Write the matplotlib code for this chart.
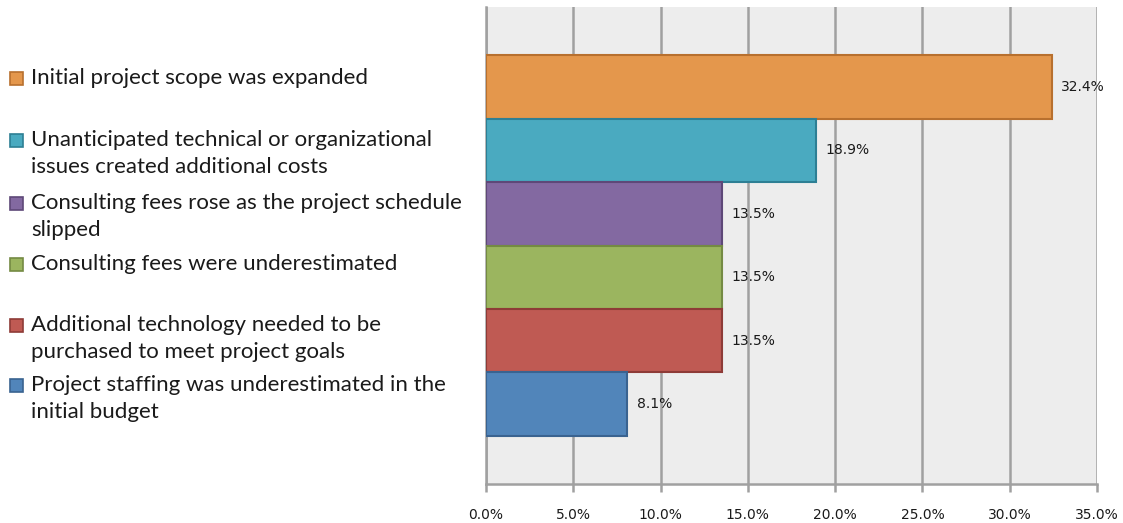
import matplotlib
matplotlib.use("Agg")
import matplotlib.pyplot as plt
from matplotlib.patches import Rectangle
from matplotlib.ticker import FuncFormatter, MultipleLocator

# Reasons for cost overruns, top to bottom
labels = [
    "Initial project scope was expanded",
    "Unanticipated technical or organizational\nissues created additional costs",
    "Consulting fees rose as the project schedule\nslipped",
    "Consulting fees were underestimated",
    "Additional technology needed to be\npurchased to meet project goals",
    "Project staffing was underestimated in the\ninitial budget",
]
values = [32.4, 18.9, 13.5, 13.5, 13.5, 8.1]
fills = ["#E4974C", "#4AAAC0", "#8369A1", "#9BB55F", "#BF5A53", "#5185BA"]
edges = ["#B8702E", "#2D7F94", "#5E4878", "#748A43", "#8E3B37", "#3A6390"]

W, H = 1123, 523
fig = plt.figure(figsize=(W / 100, H / 100), dpi=100)
fig.patch.set_facecolor("white")

ax = fig.add_axes([486 / W, 1 - 484 / H, (1097 - 486) / W, (484 - 7) / H])
ax.set_facecolor("#EDEDED")

pos = list(range(len(values)))
ax.barh(pos, values, height=1.0, color=fills, edgecolor=edges, linewidth=1.5, zorder=3)

for p, v in zip(pos, values):
    ax.text(v + 0.55, p, f"{v:.1f}%", va="center", ha="left",
            fontsize=10, color="#1A1A1A", family="DejaVu Sans", zorder=4)

ax.set_xlim(0, 35)
ax.set_ylim(len(values) - 0.5 + 0.76, -0.5 - 0.76)
ax.xaxis.set_major_locator(MultipleLocator(5))
ax.xaxis.set_major_formatter(FuncFormatter(lambda x, _: f"{x:.1f}%"))
ax.set_yticks([])
ax.grid(axis="x", color="#A0A0A0", linewidth=1.8, zorder=1)
for s in ("top", "right"):
    ax.spines[s].set_visible(False)
for s in ("left", "bottom"):
    ax.spines[s].set_color("#A0A0A0")
    ax.spines[s].set_linewidth(1.8)
ax.tick_params(axis="x", length=6, width=1.8, color="#A0A0A0", pad=11,
               labelsize=10, labelcolor="#1A1A1A")

# Legend drawn at the left with coloured squares
first_line_y = [78, 140, 203, 264, 325, 385]
line_gap = 27
for lab, y0, fc, ec in zip(labels, first_line_y, fills, edges):
    fig.patches.append(Rectangle((10 / W, 1 - (y0 + 6.5) / H), 13 / W, 13 / H,
                                 transform=fig.transFigure, facecolor=fc,
                                 edgecolor=ec, linewidth=1.2))
    for i, line in enumerate(lab.split("\n")):
        fig.text(31 / W, 1 - (y0 + i * line_gap) / H, line, ha="left", va="center",
                 fontsize=16, family="Lato", color="#1A1A1A")

fig.savefig("out.png", dpi=100)
